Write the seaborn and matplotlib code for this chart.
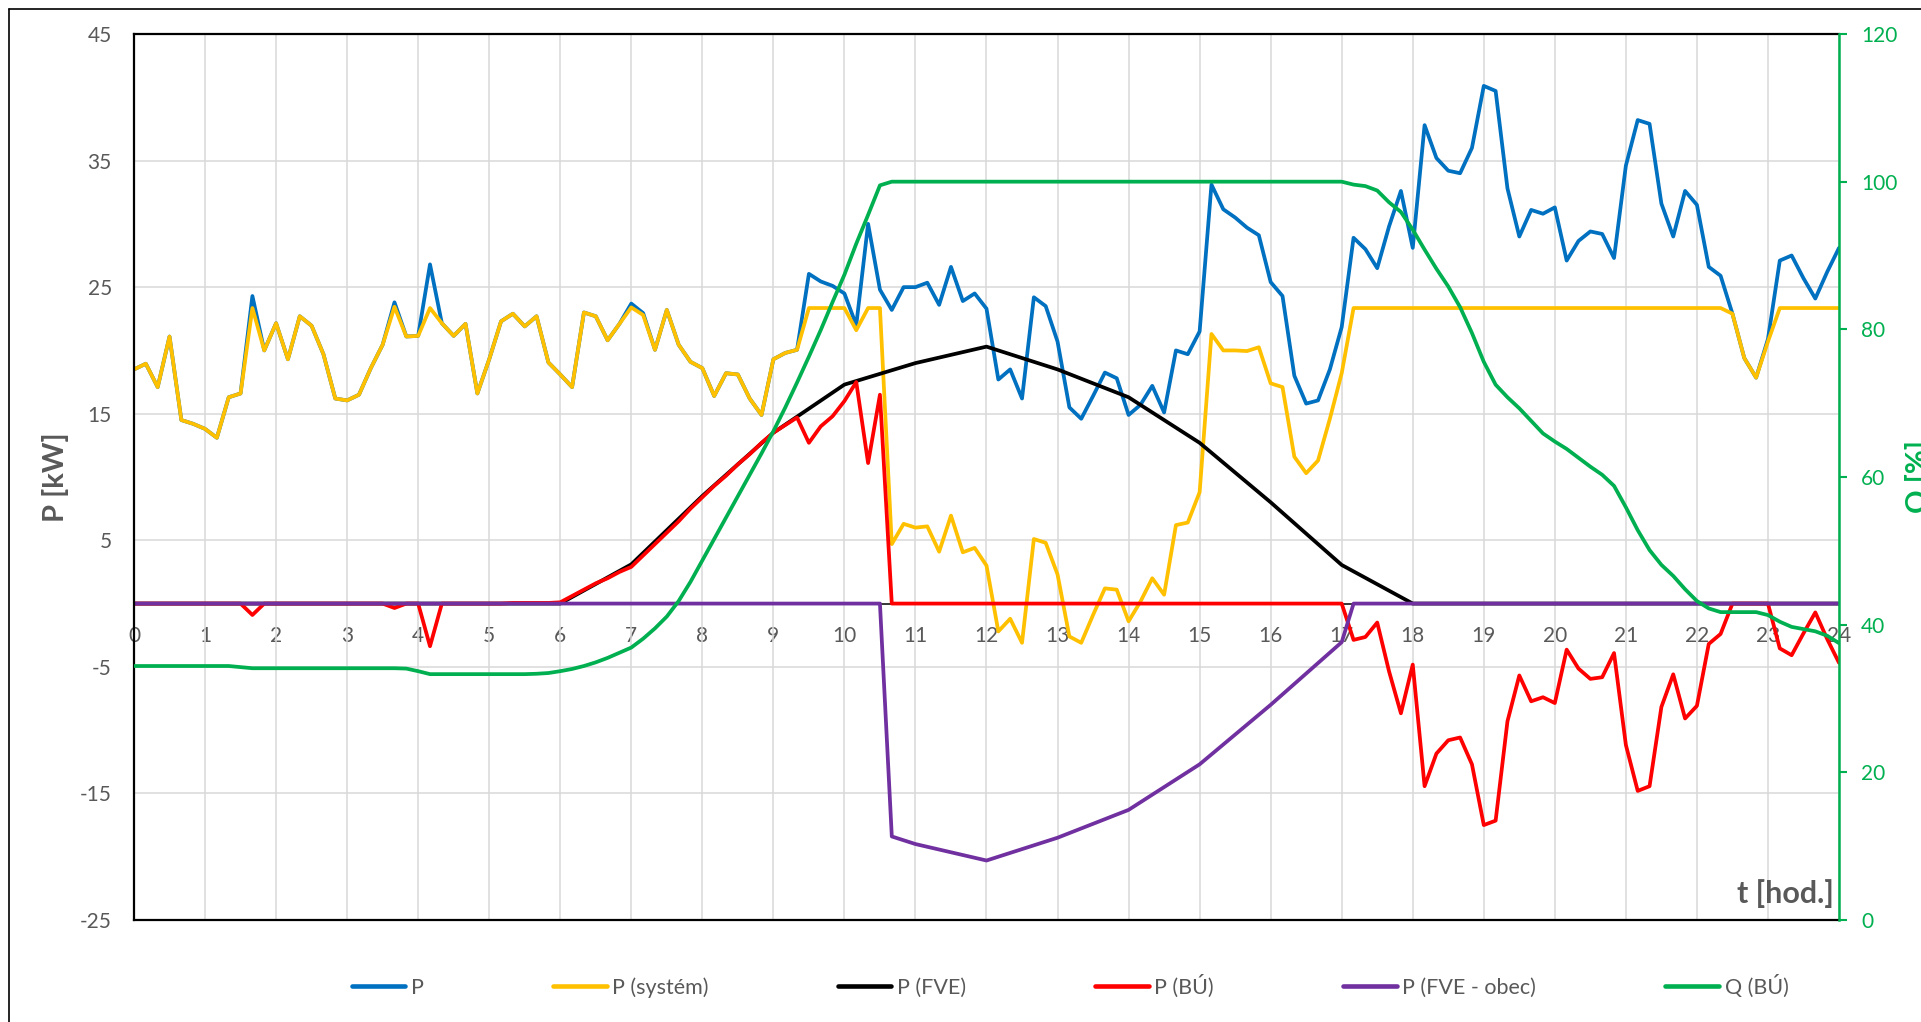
import numpy as np
import pandas as pd
import matplotlib
matplotlib.use("Agg")
import matplotlib.pyplot as plt
from matplotlib.lines import Line2D
import seaborn as sns

# 10-minute samples over one day (hours)
t_hours = np.arange(0, 1441, 10) / 60.0

p_total = [
    18.5, 18.95, 17.1, 21.1, 14.5, 14.2, 13.8, 13.1, 16.3, 16.6,
    24.3, 20.0, 22.15, 19.3, 22.7, 21.95, 19.7, 16.2, 16.05, 16.5,
    18.6, 20.45, 23.8, 21.1, 21.15, 26.8, 22.15, 21.15, 22.1, 16.6,
    19.3, 22.3, 22.9, 21.9, 22.7, 19.05, 18.1, 17.1, 23.0, 22.7,
    20.8, 22.1, 23.7, 22.95, 20.05, 23.2, 20.45, 19.1, 18.6, 16.4,
    18.2, 18.1, 16.2, 14.9, 19.3, 19.8, 20.05, 26.05, 25.45, 25.1,
    24.5, 22.0, 30.0, 24.8, 23.2, 25.0, 25.0, 25.35, 23.6, 26.6,
    23.9, 24.5, 23.3, 17.7, 18.5, 16.2, 24.2, 23.5, 20.7, 15.5,
    14.6, 16.4, 18.25, 17.8, 14.9, 15.7, 17.2, 15.1, 20.0, 19.7,
    21.5, 33.1, 31.15, 30.5, 29.7, 29.1, 25.4, 24.3, 18.0, 15.8,
    16.05, 18.5, 21.85, 28.9, 28.0, 26.5, 29.8, 32.6, 28.1, 37.8,
    35.2, 34.2, 34.0, 36.0, 40.9, 40.5, 32.8, 29.0, 31.1, 30.8,
    31.3, 27.1, 28.65, 29.4, 29.2, 27.3, 34.6, 38.2, 37.9, 31.6,
    29.0, 32.6, 31.5, 26.6, 25.9, 22.9, 19.4, 17.85, 20.9, 27.1,
    27.5, 25.7, 24.1, 26.2, 28.1,
]

p_system = [
    18.5, 18.95, 17.1, 21.1, 14.5, 14.2, 13.8, 13.1, 16.3, 16.6,
    23.35, 20.0, 22.15, 19.3, 22.7, 21.95, 19.7, 16.2, 16.05, 16.5,
    18.6, 20.45, 23.45, 21.1, 21.15, 23.35, 22.15, 21.15, 22.1, 16.6,
    19.3, 22.3, 22.9, 21.9, 22.7, 19.05, 18.1, 17.1, 23.0, 22.7,
    20.8, 22.1, 23.4, 22.8, 20.05, 23.2, 20.45, 19.1, 18.6, 16.4,
    18.2, 18.1, 16.2, 14.9, 19.3, 19.8, 20.05, 23.35, 23.35, 23.35,
    23.35, 21.6, 23.35, 23.35, 4.7, 6.3, 6.0, 6.1, 4.1, 6.95,
    4.05, 4.4, 3.0, -2.2, -1.2, -3.1, 5.1, 4.8, 2.3, -2.6,
    -3.1, -0.9, 1.2, 1.1, -1.4, 0.15, 2.0, 0.7, 6.2, 6.4,
    8.8, 21.3, 20.0, 20.0, 19.95, 20.25, 17.4, 17.1, 11.6, 10.3,
    11.3, 14.6, 18.2, 23.35, 23.35, 23.35, 23.35, 23.35, 23.35, 23.35,
    23.35, 23.35, 23.35, 23.35, 23.35, 23.35, 23.35, 23.35, 23.35, 23.35,
    23.35, 23.35, 23.35, 23.35, 23.35, 23.35, 23.35, 23.35, 23.35, 23.35,
    23.35, 23.35, 23.35, 23.35, 23.35, 22.9, 19.4, 17.85, 20.7, 23.35,
    23.35, 23.35, 23.35, 23.35, 23.35,
]

p_storage = [
    0, 0, 0, 0, 0, 0, 0, 0, 0, 0,
    -0.9, 0, 0, 0, 0, 0, 0, 0, 0, 0,
    0, 0, -0.35, 0, 0, -3.37, 0, 0, 0, 0,
    0, 0, 0.05, 0.05, 0.05, 0.05, 0.1, 0.6, 1.1, 1.6,
    2.0, 2.5, 2.9, 3.8, 4.7, 5.6, 6.5, 7.5, 8.4, 9.3,
    10.1, 11.0, 11.8, 12.7, 13.5, 14.1, 14.7, 12.7, 14.0, 14.8,
    16.0, 17.5, 11.1, 16.5, 0, 0, 0, 0, 0, 0,
    0, 0, 0, 0, 0, 0, 0, 0, 0, 0,
    0, 0, 0, 0, 0, 0, 0, 0, 0, 0,
    0, 0, 0, 0, 0, 0, 0, 0, 0, 0,
    0, 0, 0, -2.87, -2.64, -1.5, -5.36, -8.67, -4.82, -14.43,
    -11.85, -10.8, -10.58, -12.7, -17.5, -17.15, -9.3, -5.68, -7.72, -7.4,
    -7.86, -3.64, -5.14, -5.95, -5.82, -3.91, -11.17, -14.8, -14.43, -8.17,
    -5.59, -9.08, -8.08, -3.19, -2.4, 0, 0, 0, 0, -3.54,
    -4.08, -2.35, -0.7, -2.8, -4.68,
]

q_storage = [
    34.4, 34.4, 34.4, 34.4, 34.4, 34.4, 34.4, 34.4, 34.4, 34.25,
    34.1, 34.1, 34.1, 34.1, 34.1, 34.1, 34.1, 34.1, 34.1, 34.1,
    34.1, 34.1, 34.1, 34.05, 33.7, 33.3, 33.3, 33.3, 33.3, 33.3,
    33.3, 33.3, 33.3, 33.3, 33.35, 33.45, 33.7, 34.0, 34.4, 34.9,
    35.5, 36.2, 36.9, 38.1, 39.5, 41.1, 43.2, 45.8, 48.7, 51.6,
    54.5, 57.4, 60.3, 63.2, 66.2, 69.4, 72.8, 76.3, 79.9, 83.7,
    87.4, 91.6, 95.5, 99.5, 100, 100, 100, 100, 100, 100,
    100, 100, 100, 100, 100, 100, 100, 100, 100, 100,
    100, 100, 100, 100, 100, 100, 100, 100, 100, 100,
    100, 100, 100, 100, 100, 100, 100, 100, 100, 100,
    100, 100, 100, 99.6, 99.4, 98.8, 97.2, 95.9, 93.5, 90.8,
    88.2, 85.8, 83.0, 79.5, 75.6, 72.5, 70.8, 69.3, 67.6, 65.9,
    64.8, 63.8, 62.6, 61.4, 60.3, 58.8, 55.9, 52.8, 50.1, 48.1,
    46.6, 44.8, 43.2, 42.2, 41.7, 41.7, 41.7, 41.7, 41.3, 40.4,
    39.7, 39.4, 39.1, 38.5, 37.5,
]

# PV output, hourly values
pv_hours = list(range(25))
p_pv = [0, 0, 0, 0, 0, 0, 0, 3.1, 8.5, 13.5, 17.3, 19.0, 20.3, 18.5,
        16.3, 12.7, 8.0, 3.05, 0, 0, 0, 0, 0, 0, 0]

# PV power delivered to the municipality
obec_hours = [0, 10.5, 10.667, 11, 12, 13, 14, 15, 16, 17, 17.167, 24]
p_pv_obec = [0, 0, -18.4, -19.0, -20.3, -18.5, -16.3, -12.7, -8.0, -3.05, 0, 0]

series_labels = ["P", "P (systém)", "P (FVE)", "P (BÚ)", "P (FVE - obec)", "Q (BÚ)"]
series_colors = ["#0070C0", "#FFC000", "#000000", "#FF0000", "#7030A0", "#00B050"]

x_ticks = list(range(25))
p_ticks = list(range(-25, 46, 10))
q_ticks = list(range(0, 121, 20))

df = pd.DataFrame({"t": t_hours, "P": p_total, "Psys": p_system,
                   "Pbu": p_storage, "Q": q_storage})
df_pv = pd.DataFrame({"t": pv_hours, "Pfve": p_pv})
df_obec = pd.DataFrame({"t": obec_hours, "Pobec": p_pv_obec})

sns.set_theme(style="white")
plt.rcParams["font.family"] = ["Lato", "DejaVu Sans"]
plt.rcParams["axes.unicode_minus"] = False

GRAY = "#595959"
GREEN = "#00B050"
LW = 2.7
TICK_FS = 15

fig = plt.figure(figsize=(19.21, 10.22), dpi=100, facecolor="white")
ax = fig.add_axes([134 / 1921, 1 - 920 / 1022, 1705 / 1921, 886 / 1022])
ax2 = ax.twinx()

# primary axis (kW)
ax.set_xlim(0, 24)
ax.set_ylim(-25, 45)
ax.set_xticks(x_ticks)
ax.set_yticks(p_ticks)
ax.grid(True, color="#D9D9D9", lw=1.1)
ax.set_axisbelow(True)
ax.tick_params(axis="x", length=0, labelbottom=False)
ax.tick_params(axis="y", length=0, pad=16, labelsize=TICK_FS, labelcolor=GRAY)
for side in ["left", "top", "bottom"]:
    ax.spines[side].set_color("black")
    ax.spines[side].set_linewidth(1.6)
ax.spines["right"].set_visible(False)
ax.axhline(0, color="black", lw=1.1, zorder=1.5)

sns.lineplot(data=df, x="t", y="P", ax=ax, color=series_colors[0], lw=LW, zorder=2.1)
sns.lineplot(data=df, x="t", y="Psys", ax=ax, color=series_colors[1], lw=LW, zorder=2.2)
sns.lineplot(data=df_pv, x="t", y="Pfve", ax=ax, color=series_colors[2], lw=LW, zorder=2.3)
sns.lineplot(data=df, x="t", y="Pbu", ax=ax, color=series_colors[3], lw=LW, zorder=2.4)
sns.lineplot(data=df_obec, x="t", y="Pobec", ax=ax, color=series_colors[4], lw=LW, zorder=2.5)

ax.set_xlabel("")
ax.set_ylabel("P [kW]", fontsize=21, fontweight="bold", color=GRAY)
ax.yaxis.set_label_coords(-0.038, 0.5)

# hour labels sit on the zero line
secax = ax.secondary_xaxis(25 / 70)
secax.set_xticks(x_ticks)
secax.tick_params(length=0, pad=16, labelsize=TICK_FS, labelcolor=GRAY)
for sp in secax.spines.values():
    sp.set_visible(False)

ax.text(0.997, 0.014, "t [hod.]", transform=ax.transAxes, ha="right", va="bottom",
        fontsize=22, fontweight="bold", color=GRAY)

# secondary axis (%)
sns.lineplot(data=df, x="t", y="Q", ax=ax2, color=series_colors[5], lw=LW)
ax2.set_ylim(0, 120)
ax2.set_yticks(q_ticks)
ax2.set_xlabel("")
ax2.grid(False)
ax2.tick_params(axis="y", colors=GREEN, length=6, width=1.5, direction="out",
                pad=10, labelsize=TICK_FS)
for side in ["left", "top", "bottom"]:
    ax2.spines[side].set_visible(False)
ax2.spines["right"].set_color(GREEN)
ax2.spines["right"].set_linewidth(1.8)
ax2.set_ylabel("Q [%]", fontsize=21, fontweight="bold", color=GREEN)
ax2.yaxis.set_label_coords(1.039, 0.5)

handles = [Line2D([0], [0], color=c, lw=LW + 0.6) for c in series_colors]
fig.legend(handles, series_labels, loc="center",
           bbox_to_anchor=(1070 / 1921, 1 - 986 / 1022), ncol=6, frameon=False,
           fontsize=15.5, labelcolor=GRAY, handlelength=2.5, handletextpad=0.25,
           columnspacing=6.0)

# chart-area border
fig.add_artist(Line2D([9 / 1921, 9 / 1921], [1 - 9 / 1022, 0], transform=fig.transFigure,
                      color="black", lw=1.2))
fig.add_artist(Line2D([9 / 1921, 1], [1 - 9 / 1022, 1 - 9 / 1022], transform=fig.transFigure,
                      color="black", lw=1.2))

fig.savefig("out.png", dpi=100, facecolor="white")
